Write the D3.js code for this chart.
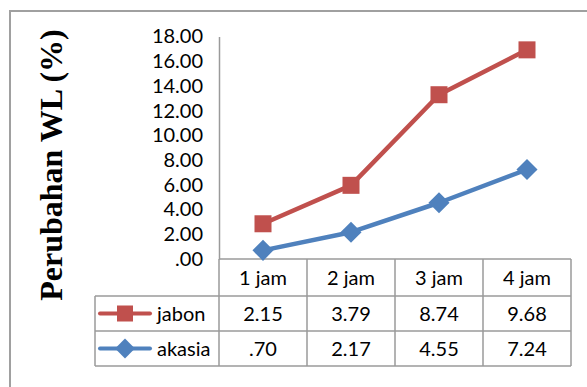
<!DOCTYPE html>
<html>
<head>
<meta charset="utf-8">
<script src="https://cdn.jsdelivr.net/npm/d3@7"></script>
<style>
  html, body { margin: 0; padding: 0; background: #fff; }
  svg { display: block; }
</style>
</head>
<body>
<svg id="chart" width="587" height="387"></svg>
<script>
// Hours of soaking and the change in water loss (%) for each wood species
const categories = ["1 jam", "2 jam", "3 jam", "4 jam"];
const seriesNames = ["akasia", "jabon"];
const akasia = [0.70, 2.17, 4.55, 7.24];
const jabon = [2.15, 3.79, 8.74, 9.68];
const valueLabels = {
  jabon: ["2.15", "3.79", "8.74", "9.68"],
  akasia: [".70", "2.17", "4.55", "7.24"]
};
const yTicks = [0, 2, 4, 6, 8, 10, 12, 14, 16, 18];
const colors = { jabon: "#C0504D", akasia: "#4F81BD" };
const tableRows = ["jabon", "akasia"];

const svg = d3.select("#chart");
const font = "Lato, 'Open Sans', sans-serif";
const gridColor = "#9a9a9a";

// outer frame
svg.append("path")
  .attr("d", "M10,387 V11 H587")
  .attr("fill", "none")
  .attr("stroke", "#a0a0a0")
  .attr("stroke-width", 2);

const plotLeft = 219, plotRight = 571, plotTop = 36.5, plotBottom = 259;

const x = d3.scaleBand().domain(categories).range([plotLeft, plotRight]);
const y = d3.scaleLinear().domain([0, 18]).range([plotBottom, plotTop]);

// stacked lines: jabon drawn on top of akasia
const rows = categories.map((c, i) => ({ cat: c, akasia: akasia[i], jabon: jabon[i] }));
const stacked = d3.stack().keys(seriesNames)(rows);

// y axis
const yAxis = svg.append("g")
  .attr("transform", `translate(${plotLeft},0)`)
  .call(d3.axisLeft(y).tickValues(yTicks).tickSize(0).tickPadding(16)
    .tickFormat(d => d === 0 ? ".00" : d3.format(".2f")(d)));
yAxis.select(".domain").attr("stroke", gridColor).attr("stroke-width", 1.5);
yAxis.selectAll("text")
  .attr("font-family", font).attr("font-size", 20).attr("fill", "#000");

// y title
svg.append("text")
  .attr("transform", `translate(62,${165}) rotate(-90)`)
  .attr("text-anchor", "middle")
  .attr("font-family", "'Liberation Serif', 'Times New Roman', serif")
  .attr("font-weight", "bold")
  .attr("font-size", 32)
  .attr("fill", "#000")
  .text("Perubahan WL (%)");

// data table grid
const rowBounds = [plotBottom, 296, 331, 366];
const tableLeft = 95;
const g = svg.append("g").attr("stroke", gridColor).attr("stroke-width", 1.5).attr("fill", "none");
g.append("line").attr("x1", plotLeft).attr("x2", plotRight).attr("y1", plotBottom).attr("y2", plotBottom);
[296, 331, 366].forEach(v => {
  g.append("line").attr("x1", tableLeft).attr("x2", plotRight).attr("y1", v).attr("y2", v);
});
categories.forEach(c => {
  g.append("line").attr("x1", x(c)).attr("x2", x(c)).attr("y1", plotBottom).attr("y2", 366);
});
g.append("line").attr("x1", plotRight).attr("x2", plotRight).attr("y1", plotBottom).attr("y2", 366);
g.append("line").attr("x1", tableLeft).attr("x2", tableLeft).attr("y1", 296).attr("y2", 366);

// header row
svg.append("g").selectAll("text").data(categories).join("text")
  .attr("x", d => x(d) + x.bandwidth() / 2)
  .attr("y", (rowBounds[0] + rowBounds[1]) / 2)
  .attr("dy", "0.35em")
  .attr("text-anchor", "middle")
  .attr("font-family", font).attr("font-size", 20).attr("fill", "#000")
  .text(d => d);

// markers
function marker(sel, name, size) {
  if (name === "jabon") {
    sel.append("rect")
      .attr("x", -size / 2).attr("y", -size / 2)
      .attr("width", size).attr("height", size)
      .attr("fill", colors[name]);
  } else {
    const h = size * 0.62;
    sel.append("path")
      .attr("d", `M0,${-h} L${h},0 L0,${h} L${-h},0 Z`)
      .attr("fill", colors[name]);
  }
}

// data rows with legend keys
tableRows.forEach((name, r) => {
  const cy = (rowBounds[r + 1] + rowBounds[r + 2]) / 2;
  svg.append("line")
    .attr("x1", 100).attr("x2", 150).attr("y1", cy).attr("y2", cy)
    .attr("stroke", colors[name]).attr("stroke-width", 4).attr("stroke-linecap", "round");
  marker(svg.append("g").attr("transform", `translate(125,${cy})`), name, 16);
  svg.append("text")
    .attr("x", 157).attr("y", cy).attr("dy", "0.35em")
    .attr("font-family", font).attr("font-size", 20).attr("fill", "#000")
    .text(name);
  svg.append("g").selectAll("text").data(categories).join("text")
    .attr("x", d => x(d) + x.bandwidth() / 2)
    .attr("y", cy).attr("dy", "0.35em")
    .attr("text-anchor", "middle")
    .attr("font-family", font).attr("font-size", 20).attr("fill", "#000")
    .text((d, i) => valueLabels[name][i]);
});

// lines and markers
const line = d3.line()
  .x(d => x(d.data.cat) + x.bandwidth() / 2)
  .y(d => y(d[1]));

stacked.forEach(s => {
  svg.append("path")
    .datum(s)
    .attr("d", line)
    .attr("fill", "none")
    .attr("stroke", colors[s.key])
    .attr("stroke-width", 4.5)
    .attr("stroke-linejoin", "round");
  s.forEach(d => {
    marker(svg.append("g")
      .attr("transform", `translate(${x(d.data.cat) + x.bandwidth() / 2},${y(d[1])})`), s.key, 17);
  });
});
</script>
</body>
</html>
